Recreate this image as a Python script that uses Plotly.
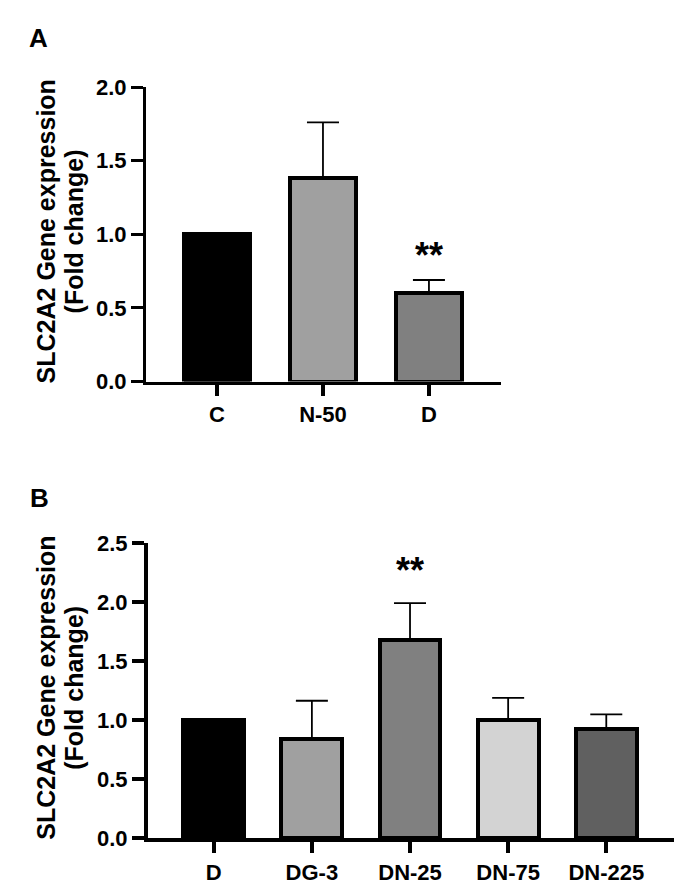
import plotly.graph_objects as go

W, H = 685, 893

# Panel A data
cats_a = ["C", "N-50", "D"]
vals_a = [1.0, 1.38, 0.60]
err_top_a = [None, 1.76, 0.69]
colors_a = ["#000000", "#a0a0a0", "#808080"]
sig_a = ["", "", "**"]

# Panel B data
cats_b = ["D", "DG-3", "DN-25", "DN-75", "DN-225"]
vals_b = [1.0, 0.84, 1.68, 1.0, 0.93]
err_top_b = [None, 1.165, 1.99, 1.19, 1.05]
colors_b = ["#000000", "#a0a0a0", "#808080", "#d3d3d3", "#606060"]
sig_b = ["", "", "**", "", ""]

ytick_a = [0.0, 0.5, 1.0, 1.5, 2.0]
ytick_b = [0.0, 0.5, 1.0, 1.5, 2.0, 2.5]

FONT = "Liberation Sans, Arial, sans-serif"

def px_x(p):
    return p / W

def px_y(p):
    return (H - p) / H

fig = go.Figure()

def add_panel(cats, vals, errs, colors, xa, ya):
    xs = list(range(len(cats)))
    plus = [(e - v) if e is not None else 0 for v, e in zip(vals, errs)]
    fig.add_trace(go.Bar(
        x=xs, y=vals, width=0.62,
        marker=dict(color=colors, line=dict(color="black", width=4)),
        error_y=dict(type="data", array=plus, arrayminus=[0] * len(xs),
                     symmetric=False, color="black", thickness=1.8, width=16,
                     visible=True),
        xaxis=xa, yaxis=ya, showlegend=False, hoverinfo="skip",
    ))

add_panel(cats_a, vals_a, err_top_a, colors_a, "x", "y")
add_panel(cats_b, vals_b, err_top_b, colors_b, "x2", "y2")

tickfont = dict(family=FONT, size=22, color="black", weight="bold")

def xaxis_cfg(cats, dom, rng, lw):
    return dict(domain=dom, range=rng, tickmode="array",
                tickvals=list(range(len(cats))), ticktext=cats,
                showline=True, linecolor="black", linewidth=lw,
                ticks="outside", ticklen=11, tickwidth=3.5, tickcolor="black",
                tickfont=tickfont, showgrid=False, zeroline=False, fixedrange=True)

def yaxis_cfg(tv, dom, rng, lw, anchor):
    return dict(domain=dom, range=rng, tickmode="array", tickvals=tv,
                ticktext=[f"{v:.1f}" for v in tv], anchor=anchor,
                showline=True, linecolor="black", linewidth=lw,
                ticks="outside", ticklen=12, tickwidth=lw, tickcolor="black",
                tickfont=tickfont, showgrid=False, zeroline=False, fixedrange=True)

dom_ax = [px_x(138), px_x(493)]
dom_ay = [px_y(372), px_y(69)]
dom_bx = [px_x(140), px_x(666)]
dom_by = [px_y(842), px_y(538)]

fig.update_layout(
    width=W, height=H,
    margin=dict(l=0, r=0, t=0, b=0),
    paper_bgcolor="white", plot_bgcolor="white",
    bargap=0,
    xaxis=xaxis_cfg(cats_a, dom_ax, [-0.67, 2.68], 3) | dict(anchor="y"),
    yaxis=yaxis_cfg(ytick_a, dom_ay, [0, 2.0], 3, "x"),
    xaxis2=xaxis_cfg(cats_b, dom_bx, [-0.67, 4.69], 4) | dict(anchor="y2"),
    yaxis2=yaxis_cfg(ytick_b, dom_by, [0, 2.5], 4, "x2"),
)

annotations = []
star_font = dict(family=FONT, size=36, color="black", weight="bold")
for i, (s, e) in enumerate(zip(sig_a, err_top_a)):
    if s:
        annotations.append(dict(x=i, y=e, xref="x", yref="y", text=s, showarrow=False,
                                yanchor="bottom", yshift=2, font=star_font))
for i, (s, e) in enumerate(zip(sig_b, err_top_b)):
    if s:
        annotations.append(dict(x=i, y=e, xref="x2", yref="y2", text=s, showarrow=False,
                                yanchor="bottom", yshift=10, font=star_font))

# panel letters
letter_font = dict(family=FONT, size=26, color="black", weight="bold")
annotations.append(dict(x=px_x(30), y=px_y(19), xref="paper", yref="paper", text="A",
                        showarrow=False, xanchor="center", yanchor="middle", font=letter_font))
annotations.append(dict(x=px_x(31), y=px_y(492), xref="paper", yref="paper", text="B",
                        showarrow=False, xanchor="center", yanchor="middle", font=letter_font))

# y-axis titles (two lines each)
title_font = dict(family=FONT, size=25, color="black", weight="bold")
for cy in [(69 + 372) / 2 - 3, (538 + 842) / 2 - 3]:
    annotations.append(dict(x=px_x(38), y=px_y(cy), xref="paper", yref="paper",
                            text="SLC2A2 Gene expression", textangle=-90, showarrow=False,
                            xanchor="center", yanchor="middle", font=title_font))
    annotations.append(dict(x=px_x(66), y=px_y(cy), xref="paper", yref="paper",
                            text="(Fold change)", textangle=-90, showarrow=False,
                            xanchor="center", yanchor="middle", font=title_font))

fig.update_layout(annotations=annotations)
fig.write_html("out.html")
